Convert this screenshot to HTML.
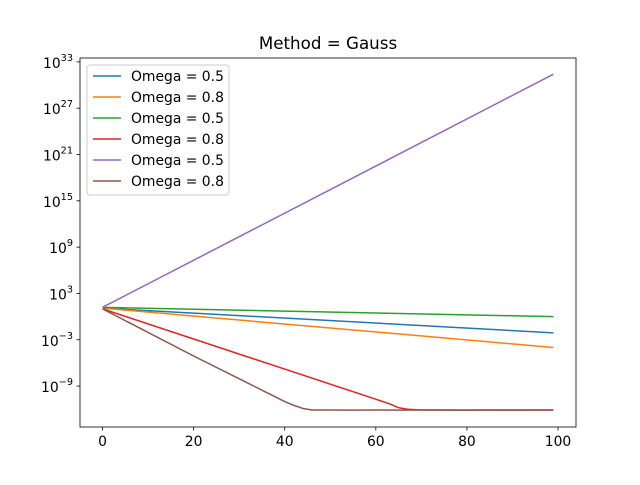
<!DOCTYPE html>
<html><head><meta charset="utf-8"><style>
body{margin:0;background:#fff;}
svg text{font-family:"DejaVu Sans","Liberation Sans",sans-serif;}
</style></head><body>
<svg id="chart" width="640" height="480" viewBox="0 0 640 480">
<rect width="640" height="480" fill="#fff"/>
<text x="328" y="49" font-size="16.7" text-anchor="middle">Method = Gauss</text>
<g id="plot"></g>
<rect x="80" y="58" width="496" height="369" fill="none" stroke="#000" stroke-width="0.8"/>
<g id="axes"></g>
<g id="legend"></g>
</svg>
<script>
const xTicks=[0,20,40,60,80,100];
const yTickExps=[-9,-3,3,9,15,21,27,33];
const seriesNames=["Omega = 0.5","Omega = 0.8","Omega = 0.5","Omega = 0.8","Omega = 0.5","Omega = 0.8"];
const seriesColors=["#1f77b4","#ff7f0e","#2ca02c","#d62728","#9467bd","#8c564b"];
// log10 of values at sample iterations
const blueX=[0,99];     const blueY=[1.1,-2.1];
const orangeX=[0,99];   const orangeY=[1.1,-4.0];
const greenX=[0,99];    const greenY=[1.2,0.0];
const redX=[0,20,40,60,63,65,67,70,75,80,85,90,95,99];
const redY=[1.0,-2.9,-6.8,-10.7,-11.3,-11.8,-12.0,-12.1,-12.1,-12.12,-12.1,-12.12,-12.1,-12.1];
const purpleX=[0,99];   const purpleY=[1.2,31.4];
const brownX=[0,20,40,42,44,46,50,55,60,65,70,80,90,99];
const brownY=[1.0,-5.1,-11.0,-11.5,-11.9,-12.1,-12.1,-12.12,-12.1,-12.12,-12.1,-12.12,-12.1,-12.1];
const allX=[blueX,orangeX,greenX,redX,purpleX,brownX];
const allY=[blueY,orangeY,greenY,redY,purpleY,brownY];

const L=80,R=576,T=58,B=427;
const xMin=-4.95,xMax=103.95,yMin=-14.3,yMax=33.5;
const sx=v=>L+(v-xMin)/(xMax-xMin)*(R-L);
const sy=v=>B-(v-yMin)/(yMax-yMin)*(B-T);
const NS="http://www.w3.org/2000/svg";
const mk=(t,a,p)=>{const e=document.createElementNS(NS,t);for(const k in a)e.setAttribute(k,a[k]);p.appendChild(e);return e;};
const axes=document.getElementById('axes'),plot=document.getElementById('plot'),leg=document.getElementById('legend');

xTicks.forEach(v=>{
  const x=sx(v);
  const l=mk('line',{x1:x,x2:x,y1:B,y2:B+3.5,stroke:'#000','stroke-width':0.8},axes);
  
  
  const t=mk('text',{x:x,y:B+19,'font-size':13.9,'text-anchor':'middle'},axes);
  t.textContent=v;
  
  
});
yTickExps.forEach(v=>{
  const y=sy(v);
  const l=mk('line',{x1:L-3.5,x2:L,y1:y,y2:y,stroke:'#000','stroke-width':0.8},axes);
  
  
  const t=mk('text',{x:L-7,y:y+6,'font-size':13.9,'text-anchor':'end'},axes);
  
  
  const a=mk('tspan',{},t);a.textContent='10';
  const b=mk('tspan',{dy:-7,'font-size':9.7},t);b.textContent=(v<0?'\u2212'+(-v):v);
});
allX.forEach((xs,i)=>{
  const pts=xs.map((x,j)=>sx(x).toFixed(2)+','+sy(allY[i][j]).toFixed(2)).join(' ');
  const p=mk('polyline',{points:pts,fill:'none',stroke:seriesColors[i],'stroke-width':1.5,'stroke-linejoin':'round'},plot);
  
  
});
const box=mk('rect',{x:87,y:65,width:142,height:130,rx:3,fill:'#fff','fill-opacity':0.8,stroke:'#ccc','stroke-width':1},leg);


seriesNames.forEach((n,i)=>{
  const y=76+i*21;
  const g=mk('g',{},leg);
  
  
  mk('line',{x1:93,x2:121,y1:y,y2:y,stroke:seriesColors[i],'stroke-width':1.5},g);
  const t=mk('text',{x:131,y:y+5,'font-size':13.9},g);t.textContent=n;
});
</script>
</body></html>
